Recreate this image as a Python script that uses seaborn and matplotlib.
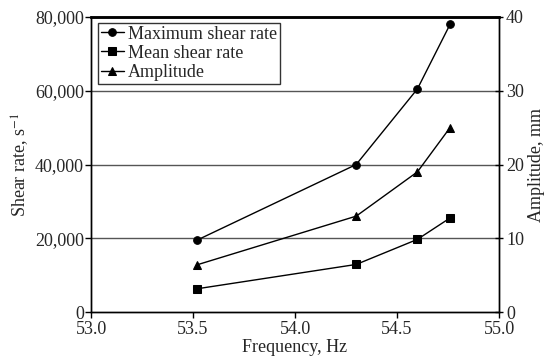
import matplotlib
matplotlib.use("Agg")
import matplotlib.pyplot as plt
import seaborn as sns
import pandas as pd
from matplotlib.ticker import FuncFormatter, MultipleLocator

frequency = [53.52, 54.30, 54.60, 54.76]
max_shear = [19500, 40000, 60500, 78000]
mean_shear = [6300, 12900, 19700, 25500]
amplitude = [6.4, 13.0, 19.0, 25.0]

sns.set_style("white")
plt.rcParams['font.family'] = ['Liberation Serif', 'DejaVu Serif']
plt.rcParams['mathtext.fontset'] = 'stix'

FS = 13
fig = plt.figure(figsize=(5.5, 3.6), dpi=100)
ax = fig.add_axes([0.1655, 0.1333, 0.7418, 0.8195])
ax2 = ax.twinx()

df = pd.DataFrame({"f": frequency, "max": max_shear, "mean": mean_shear, "amp": amplitude})

sns.lineplot(data=df, x="f", y="max", ax=ax, color="black", lw=1, marker="o",
             markersize=5.5, markeredgecolor="black", label="Maximum shear rate", legend=False)
sns.lineplot(data=df, x="f", y="mean", ax=ax, color="black", lw=1, marker="s",
             markersize=5.5, markeredgecolor="black", label="Mean shear rate", legend=False)
sns.lineplot(data=df, x="f", y="amp", ax=ax2, color="black", lw=1, marker="^",
             markersize=5.5, markeredgecolor="black", label="Amplitude", legend=False)

ax.set_xlim(53.0, 55.0)
ax.set_ylim(0, 80000)
ax2.set_ylim(0, 40)
ax.xaxis.set_major_locator(MultipleLocator(0.5))
ax.xaxis.set_major_formatter(FuncFormatter(lambda v, p: f"{v:.1f}"))
ax.yaxis.set_major_locator(MultipleLocator(20000))
ax.yaxis.set_major_formatter(FuncFormatter(lambda v, p: f"{int(v):,}"))
ax2.yaxis.set_major_locator(MultipleLocator(10))

for yv in [20000, 40000, 60000]:
    ax.axhline(yv, color="#555555", lw=1, zorder=0)

for a in (ax, ax2):
    for s in a.spines.values():
        s.set_color("black")
        s.set_linewidth(1)
ax.spines['top'].set_linewidth(1.8)
ax2.spines['top'].set_linewidth(1.8)

ax.tick_params(axis="x", direction="out", length=4, width=1, labelsize=FS, color="black",
               bottom=True, pad=2.5)
ax.tick_params(axis="y", direction="out", length=4, width=1, labelsize=FS, color="black",
               left=True, pad=1)
ax2.tick_params(axis="y", direction="inout", length=6, width=1, labelsize=FS, color="black",
                right=True, pad=2)

ax.set_xlabel("Frequency, Hz", fontsize=FS, labelpad=0.5)
ax.set_ylabel("Shear rate, s$^{-1}$", fontsize=FS, labelpad=3)
ax2.set_ylabel("Amplitude, mm", fontsize=FS, labelpad=3)

h1, l1 = ax.get_legend_handles_labels()
h2, l2 = ax2.get_legend_handles_labels()
leg = ax.legend(h1 + h2, l1 + l2, loc="upper left", bbox_to_anchor=(0.017, 0.98),
                fontsize=FS, frameon=True, fancybox=False, edgecolor="black",
                handlelength=1.3, handletextpad=0.2, borderpad=0.15, labelspacing=0.12,
                borderaxespad=0)
leg.get_frame().set_linewidth(1)
leg.set_zorder(10)

fig.savefig("out.png", dpi=100)
